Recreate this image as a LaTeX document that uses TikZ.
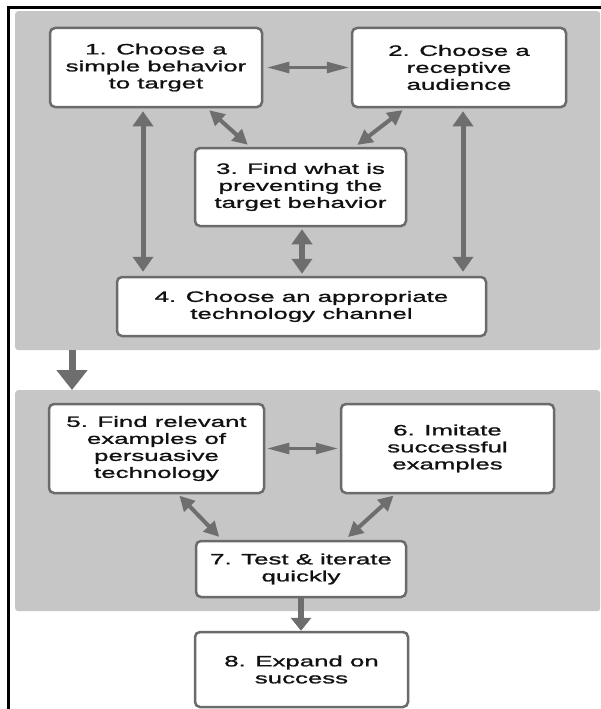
\documentclass[tikz,border=0pt]{standalone}
\usepackage{fontspec}
\setmainfont[FakeStretch=1.72,FakeBold=1.2]{Liberation Sans}
\usetikzlibrary{arrows.meta}
\definecolor{panelgray}{HTML}{C6C6C6}
\definecolor{edgegray}{HTML}{6B6B6B}
\definecolor{arrowgray}{HTML}{6E6E6E}
\definecolor{textblack}{HTML}{111111}
\begin{document}
\begin{tikzpicture}[x=1pt,y=-1pt,
  box/.style={draw=edgegray, line width=2.5pt, fill=white, rounded corners=5pt,
    align=center, text=textblack, font=\fontsize{15}{17}\selectfont, inner sep=0pt},
  panel/.style={fill=panelgray, rounded corners=3pt, inner sep=0pt, anchor=north west},
  varrow/.style={draw=arrowgray, line width=5pt,
    {Triangle[length=15pt,width=20pt]}-{Triangle[length=15pt,width=20pt]}},
  vsingle/.style={draw=arrowgray, line width=5.5pt, -{Triangle[length=13pt,width=20pt]}},
  harrow/.style={draw=arrowgray, line width=2.5pt,
    {Triangle[length=22pt,width=11pt]}-{Triangle[length=22pt,width=11pt]}},
  darrow/.style={draw=arrowgray, line width=4pt,
    {Triangle[length=15pt,width=15pt]}-{Triangle[length=15pt,width=15pt]}},
  bigarrow/.style={draw=arrowgray, line width=7pt, -{Triangle[length=20pt,width=30pt]}}
]
\useasboundingbox (0,0) rectangle (601,709);
\fill[white] (0,0) rectangle (601,709);

% panels
\node[panel, minimum width=585pt, minimum height=339pt] (p1) at (15,11) {};
\node[panel, minimum width=585pt, minimum height=221pt] (p2) at (15,390) {};

% frame
\draw[line width=3pt, black] (8,709) -- (8,8) -- (601,8);

% boxes
\node[box, minimum width=212pt, minimum height=79pt] (b1) at (156,67.5) {1. Choose a\\simple behavior\\to target};
\node[box, minimum width=214pt, minimum height=79pt] (b2) at (459,67.5) {2. Choose a\\receptive\\audience};
\node[box, minimum width=211pt, minimum height=78pt] (b3) at (300.5,187) {3. Find what is\\preventing the\\target behavior};
\node[box, minimum width=369pt, minimum height=59pt] (b4) at (301.5,306.5) {4. Choose an appropriate\\technology channel};
\node[box, minimum width=215pt, minimum height=89pt] (b5) at (156.5,448.5) {5. Find relevant\\examples of\\persuasive\\technology};
\node[box, minimum width=213pt, minimum height=89pt] (b6) at (447.5,448.5) {6. Imitate\\successful\\examples};
\node[box, minimum width=210pt, minimum height=56pt] (b7) at (301,569) {7. Test \& iterate\\quickly};
\node[box, minimum width=213pt, minimum height=75pt] (b8) at (301.5,669.5) {8. Expand on\\success};

% helper x positions
\coordinate (xa) at (143,0);
\coordinate (xb) at (463,0);
\coordinate (xc) at (302,0);
\coordinate (xd) at (301,0);
\coordinate (xe) at (72,0);

% arrows, upper panel
\draw[harrow, shorten <=4pt, shorten >=2pt] (b1.east) -- (b2.west);
\draw[varrow, shorten <=3pt, shorten >=4pt] (b1.south -| xa) -- (b4.north -| xa);
\draw[varrow, shorten <=3pt, shorten >=4pt] (b2.south -| xb) -- (b4.north -| xb);
\draw[varrow, line width=6pt, shorten <=2pt, shorten >=2pt] (b3.south -| xc) -- (b4.north -| xc);
\draw[darrow, shorten <=3pt, shorten >=3pt] ([xshift=51pt]b1.south) -- ([xshift=-50.5pt]b3.north);
\draw[darrow, shorten <=3pt, shorten >=3pt] ([xshift=-54pt]b2.south) -- ([xshift=54.5pt]b3.north);

% between panels
\draw[bigarrow] (p1.south -| xe) -- (p2.north -| xe);

% arrows, lower panel
\draw[harrow, shorten <=2pt, shorten >=2pt] (b5.east) -- (b6.west);
\draw[darrow, shorten <=2pt, shorten >=4pt] ([xshift=21.5pt]b5.south) -- ([xshift=-79pt]b7.north);
\draw[darrow, shorten <=2pt, shorten >=4pt] ([xshift=-52.5pt]b6.south) -- ([xshift=44pt]b7.north);
\draw[vsingle] (b7.south -| xd) -- (b8.north -| xd);
\end{tikzpicture}
\end{document}
